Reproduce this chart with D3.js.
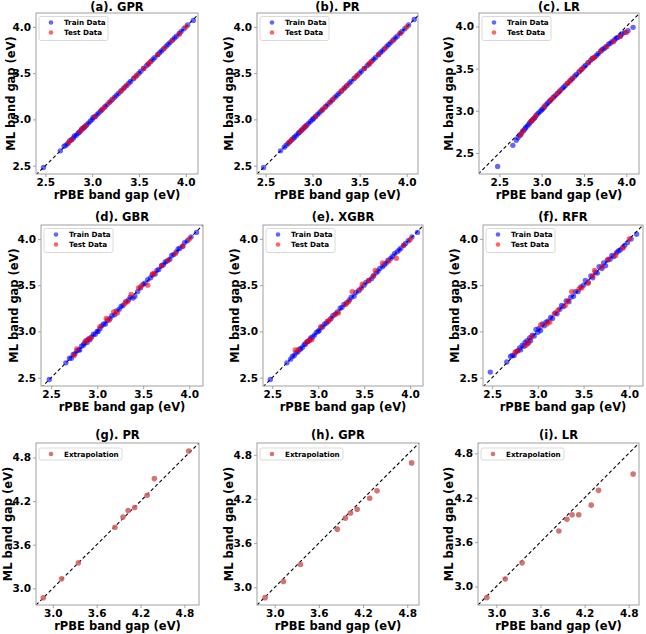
<!DOCTYPE html>
<html>
<head>
<meta charset="utf-8">
<script src="https://cdn.jsdelivr.net/npm/d3@7"></script>
<style>
  html, body { margin: 0; padding: 0; background: #fff; }
  svg { display: block; }
  text { font-family: "DejaVu Sans", sans-serif; font-weight: bold; }
</style>
</head>
<body>
<svg id="chart" width="646" height="634"></svg>
<script>
// ---------------- DATA ----------------
const trainX = [2.48,2.66,2.70,2.72,2.74,2.76,2.78,2.80,2.81,2.83,2.85,2.86,2.88,2.89,2.91,2.92,2.94,2.96,2.98,3.00,3.01,3.03,3.05,3.07,3.09,3.11,3.14,3.16,3.19,3.21,3.24,3.26,3.28,3.31,3.34,3.36,3.39,3.41,3.44,3.47,3.50,3.52,3.55,3.58,3.60,3.63,3.65,3.67,3.70,3.72,3.74,3.76,3.79,3.81,3.83,3.86,3.88,3.90,3.93,3.95,3.98,4.02,4.08];
const testX  = [2.75,2.78,2.87,2.90,2.93,3.03,3.10,3.13,3.18,3.22,3.30,3.33,3.37,3.45,3.48,3.55,3.60,3.62,3.70,3.77,3.85,3.93,4.00];

const gprTrain = [2.48,2.66,2.71,2.72,2.74,2.77,2.78,2.80,2.82,2.83,2.85,2.86,2.88,2.90,2.91,2.92,2.94,2.96,2.98,3.00,3.02,3.03,3.05,3.07,3.09,3.11,3.14,3.16,3.19,3.21,3.24,3.26,3.28,3.31,3.34,3.36,3.39,3.41,3.44,3.47,3.50,3.52,3.55,3.58,3.60,3.63,3.65,3.67,3.70,3.72,3.74,3.76,3.79,3.81,3.83,3.86,3.88,3.90,3.93,3.95,3.98,4.02,4.07];
const gprTest  = [2.75,2.78,2.87,2.90,2.93,3.03,3.10,3.13,3.18,3.22,3.30,3.33,3.37,3.45,3.48,3.55,3.60,3.62,3.70,3.77,3.85,3.92,4.00];

const prTrain = [2.48,2.66,2.70,2.72,2.74,2.76,2.78,2.80,2.81,2.83,2.85,2.86,2.88,2.89,2.91,2.92,2.94,2.96,2.98,3.00,3.01,3.03,3.05,3.07,3.09,3.11,3.14,3.16,3.19,3.21,3.24,3.26,3.28,3.31,3.34,3.36,3.39,3.41,3.44,3.47,3.50,3.52,3.55,3.58,3.60,3.63,3.65,3.67,3.70,3.72,3.74,3.76,3.79,3.81,3.83,3.86,3.88,3.90,3.93,3.95,3.98,4.02,4.08];
const prTest  = [2.75,2.78,2.87,2.90,2.93,3.03,3.10,3.13,3.18,3.22,3.30,3.33,3.37,3.45,3.48,3.55,3.60,3.62,3.70,3.77,3.85,3.93,4.00];

const lrTrain = [2.34,2.59,2.65,2.68,2.71,2.73,2.76,2.78,2.80,2.82,2.84,2.86,2.88,2.89,2.91,2.92,2.95,2.97,2.99,3.01,3.02,3.04,3.07,3.09,3.11,3.13,3.16,3.18,3.21,3.23,3.26,3.28,3.30,3.33,3.36,3.38,3.41,3.43,3.46,3.49,3.52,3.54,3.57,3.60,3.62,3.64,3.66,3.68,3.71,3.73,3.74,3.76,3.79,3.80,3.82,3.84,3.86,3.87,3.89,3.91,3.93,3.95,3.99];
const lrTest  = [2.71,2.76,2.87,2.90,2.94,3.05,3.12,3.15,3.20,3.24,3.32,3.35,3.39,3.47,3.50,3.57,3.62,3.63,3.71,3.76,3.82,3.88,3.93];

const gbrTrain = [2.48,2.66,2.71,2.71,2.75,2.76,2.79,2.80,2.80,2.84,2.85,2.87,2.90,2.88,2.92,2.91,2.94,2.97,2.97,3.00,3.00,3.03,3.06,3.08,3.08,3.12,3.14,3.17,3.18,3.22,3.24,3.27,3.28,3.32,3.34,3.37,3.36,3.38,3.43,3.47,3.51,3.52,3.56,3.58,3.61,3.62,3.66,3.67,3.71,3.72,3.75,3.76,3.78,3.82,3.83,3.86,3.89,3.90,3.92,3.96,3.98,4.02,4.07];
const gbrTest  = [2.74,2.81,2.89,2.91,2.93,3.05,3.14,3.12,3.21,3.20,3.30,3.32,3.40,3.47,3.49,3.50,3.62,3.63,3.71,3.77,3.84,3.92,4.00];

const xgbrTrain = [2.48,2.66,2.70,2.73,2.74,2.77,2.78,2.81,2.81,2.83,2.86,2.86,2.89,2.89,2.91,2.93,2.94,2.96,2.99,3.00,3.01,3.04,3.05,3.08,3.09,3.11,3.14,3.17,3.19,3.21,3.25,3.26,3.29,3.31,3.34,3.37,3.38,3.42,3.44,3.47,3.50,3.53,3.55,3.57,3.60,3.63,3.65,3.68,3.70,3.72,3.74,3.77,3.79,3.81,3.84,3.86,3.88,3.90,3.93,3.95,3.98,4.02,4.07];
const xgbrTest  = [2.80,2.80,2.88,2.90,2.91,3.05,3.11,3.13,3.18,3.20,3.29,3.32,3.43,3.45,3.51,3.55,3.60,3.66,3.74,3.76,3.79,3.93,3.99];

const rfrTrain = [2.56,2.67,2.73,2.74,2.74,2.78,2.79,2.82,2.80,2.85,2.84,2.88,2.90,2.87,2.93,2.90,2.96,2.95,3.02,2.99,3.03,3.01,3.08,3.06,3.10,3.11,3.15,3.14,3.20,3.19,3.24,3.28,3.27,3.33,3.32,3.37,3.38,3.43,3.43,3.48,3.50,3.55,3.53,3.60,3.58,3.64,3.63,3.70,3.68,3.74,3.71,3.77,3.78,3.82,3.81,3.85,3.87,3.88,3.91,3.93,3.96,4.00,4.05];
const rfrTest  = [2.77,2.79,2.85,2.88,2.94,3.07,3.08,3.10,3.19,3.23,3.28,3.33,3.43,3.46,3.47,3.52,3.60,3.66,3.70,3.78,3.82,3.90,4.00];

const extrapX   = [2.87,3.12,3.35,3.85,3.96,4.03,4.12,4.29,4.39,4.86];
const extrapPR  = [2.87,3.13,3.35,3.84,3.98,4.07,4.11,4.28,4.51,4.89];
const extrapGPR = [2.86,3.08,3.31,3.79,3.94,4.01,4.06,4.21,4.31,4.69];
const extrapLR  = [2.85,3.10,3.32,3.75,3.91,3.97,3.97,4.10,4.30,4.52];

const ticksMain  = [2.5, 3.0, 3.5, 4.0];
const ticksExtra = [3.0, 3.6, 4.2, 4.8];
const titles = ["(a). GPR","(b). PR","(c). LR","(d). GBR","(e). XGBR","(f). RFR","(g). PR","(h). GPR","(i). LR"];
const xLabel = "rPBE band gap (eV)";
const yLabel = "ML band gap (eV)";

// ---------------- LAYOUT ----------------
const panels = [
  {title: titles[0], box:[36,198,13,174],  yo:21, xl:[2.40,4.13], yl:[2.41,4.15], ticks:ticksMain, train:gprTrain, test:gprTest},
  {title: titles[1], box:[257,418,13,174], yo:24, xl:[2.41,4.12], yl:[2.41,4.15], ticks:ticksMain, train:prTrain, test:prTest},
  {title: titles[2], box:[479,639,13,174], yo:26, xl:[2.26,4.15], yl:[2.25,4.16], ticks:ticksMain, train:lrTrain, test:lrTest},
  {title: titles[3], box:[41,203,225,386], yo:23, xl:[2.39,4.15], yl:[2.41,4.15], ticks:ticksMain, train:gbrTrain, test:gbrTest},
  {title: titles[4], box:[263,423,225,386],yo:24, xl:[2.40,4.14], yl:[2.41,4.15], ticks:ticksMain, train:xgbrTrain, test:xgbrTest},
  {title: titles[5], box:[483,643,225,386],yo:24, xl:[2.40,4.15], yl:[2.41,4.15], ticks:ticksMain, train:rfrTrain, test:rfrTest},
  {title: titles[6], box:[36,199,443,605], yo:24, xl:[2.77,5.00], yl:[2.77,5.00], ticks:ticksExtra, extrap:extrapPR},
  {title: titles[7], box:[257,419,443,605],yo:24, xl:[2.76,4.96], yl:[2.76,4.96], ticks:ticksExtra, extrap:extrapGPR},
  {title: titles[8], box:[478,639,443,605],yo:25, xl:[2.75,4.94], yl:[2.75,4.94], ticks:ticksExtra, extrap:extrapLR}
];

const C_TRAIN = "#0000ff", C_TEST = "#ff0000", C_EXT = "#cd5c5c";
const svg = d3.select("#chart");

panels.forEach((p, idx) => {
  const [x0, x1, y0, y1] = p.box;
  const x = d3.scaleLinear().domain(p.xl).range([x0, x1]);
  const y = d3.scaleLinear().domain(p.yl).range([y1, y0]);
  const g = svg.append("g");
  const clipId = "clip" + idx;
  g.append("clipPath").attr("id", clipId).append("rect")
    .attr("x", x0).attr("y", y0).attr("width", x1 - x0).attr("height", y1 - y0);

  // axes
  const ax = g.append("g").attr("transform", `translate(0,${y1})`)
    .call(d3.axisBottom(x).tickValues(p.ticks).tickFormat(d3.format(".1f")).tickSize(3).tickPadding(2).tickSizeOuter(0));
  const ay = g.append("g").attr("transform", `translate(${x0},0)`)
    .call(d3.axisLeft(y).tickValues(p.ticks).tickFormat(d3.format(".1f")).tickSize(3).tickPadding(2).tickSizeOuter(0));
  [ax, ay].forEach(a => {
    a.select(".domain").remove();
    a.selectAll(".tick line").attr("stroke", "#8a8a8a").attr("stroke-width", 0.8);
    a.selectAll(".tick text").attr("fill", "#000").style("font-size", "10.5px")
      .style("font-family", "'DejaVu Sans', sans-serif").style("font-weight", "bold");
  });

  // diagonal
  const lo = Math.min(p.xl[0], p.yl[0]), hi = Math.max(p.xl[1], p.yl[1]);
  const plot = g.append("g").attr("clip-path", `url(#${clipId})`);
  plot.append("line")
    .attr("x1", x(lo)).attr("y1", y(lo)).attr("x2", x(hi)).attr("y2", y(hi))
    .attr("stroke", "#000").attr("stroke-width", 1.1).attr("stroke-dasharray", "3.5,2.5");

  if (p.extrap) {
    plot.selectAll("circle.ext").data(extrapX.map((v, i) => [v, p.extrap[i]])).join("circle")
      .attr("class", "ext").attr("cx", d => x(d[0])).attr("cy", d => y(d[1])).attr("r", 2.8)
      .attr("fill", C_EXT).attr("fill-opacity", 0.85);
  } else {
    plot.selectAll("circle.tr").data(trainX.map((v, i) => [v, p.train[i]])).join("circle")
      .attr("class", "tr").attr("cx", d => x(d[0])).attr("cy", d => y(d[1])).attr("r", 2.7)
      .attr("fill", C_TRAIN).attr("fill-opacity", 0.6);
    plot.selectAll("circle.te").data(testX.map((v, i) => [v, p.test[i]])).join("circle")
      .attr("class", "te").attr("cx", d => x(d[0])).attr("cy", d => y(d[1])).attr("r", 2.7)
      .attr("fill", C_TEST).attr("fill-opacity", 0.6);
  }

  // frame
  g.append("rect").attr("x", x0).attr("y", y0).attr("width", x1 - x0).attr("height", y1 - y0)
    .attr("fill", "none").attr("stroke", "#a0a0a0").attr("stroke-width", 1);

  // title
  g.append("text").attr("x", (x0 + x1) / 2).attr("y", Math.max(y0 - 4, 10.5)).attr("text-anchor", "middle")
    .style("font-size", "11.5px").text(p.title);
  // axis labels
  g.append("text").attr("x", (x0 + x1) / 2).attr("y", y1 + 25).attr("text-anchor", "middle")
    .style("font-size", "11.5px").text(xLabel);
  g.append("text").attr("transform", `translate(${x0 - p.yo},${(y0 + y1) / 2}) rotate(-90)`)
    .attr("text-anchor", "middle").style("font-size", "11.5px").text(yLabel);

  // legend
  const items = p.extrap ? [["Extrapolation", C_EXT, 0.85]] : [["Train Data", C_TRAIN, 0.6], ["Test Data", C_TEST, 0.6]];
  const lw = p.extrap ? 83 : 69, lh = p.extrap ? 12 : 24;
  const lg = g.append("g").attr("transform", `translate(${x0 + 3},${y0 + (p.extrap ? 5 : 3.5)})`);
  lg.append("rect").attr("width", lw).attr("height", lh).attr("rx", 2)
    .attr("fill", "#fff").attr("fill-opacity", 0.8).attr("stroke", "#d0d0d0").attr("stroke-width", 0.8);
  items.forEach((it, i) => {
    const cy = 6 + i * 10;
    lg.append("circle").attr("cx", 12).attr("cy", cy).attr("r", 2.3)
      .attr("fill", it[1]).attr("fill-opacity", it[2]);
    lg.append("text").attr("x", 25).attr("y", cy).attr("dy", "0.35em")
      .style("font-size", "7.2px").text(it[0]);
  });
});
</script>
</body>
</html>
